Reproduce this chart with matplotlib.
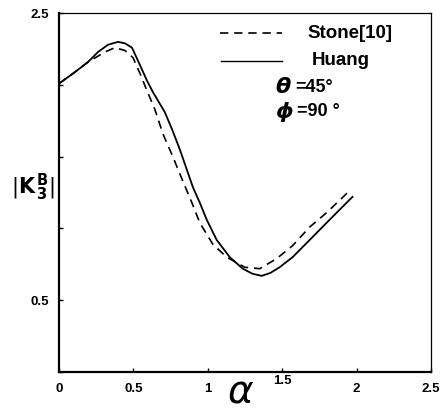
import matplotlib.pyplot as plt

# values
alpha_huang = [0.0, 0.107, 0.195, 0.262, 0.329, 0.396, 0.443, 0.490, 0.530,
               0.591, 0.631, 0.711, 0.760, 0.812, 0.859, 0.899, 0.946, 0.993,
               1.060, 1.148, 1.235, 1.30, 1.362, 1.42, 1.483, 1.570, 1.685,
               1.799, 1.953, 1.973]
k_huang = [2.01, 2.09, 2.16, 2.23, 2.28, 2.30, 2.29, 2.26, 2.17,
           2.03, 1.95, 1.81, 1.69, 1.55, 1.41, 1.29, 1.18, 1.06,
           0.92, 0.80, 0.72, 0.685, 0.67, 0.69, 0.73, 0.80, 0.92,
           1.04, 1.20, 1.22]

alpha_stone = [0.0, 0.107, 0.195, 0.309, 0.376, 0.443, 0.497, 0.544, 0.591,
               0.644, 0.698, 0.765, 0.832, 0.893, 0.946, 1.034, 1.128, 1.248,
               1.349, 1.463, 1.570, 1.685, 1.799, 1.940]
k_stone = [2.01, 2.09, 2.16, 2.23, 2.26, 2.24, 2.19, 2.08, 1.96,
           1.83, 1.66, 1.50, 1.33, 1.18, 1.04, 0.89, 0.80, 0.73,
           0.72, 0.79, 0.88, 1.01, 1.11, 1.25]

x_ticks = [0, 0.5, 1, 1.5, 2, 2.5]
x_labels = ['0', '0.5', '1', '', '2', '2.5']
y_ticks = [0, 0.5, 1, 1.5, 2, 2.5]
y_labels = ['', '0.5', '', '', '', '2.5']

plt.rcParams['font.family'] = ['Liberation Sans', 'DejaVu Sans']
plt.rcParams['mathtext.fontset'] = 'dejavusans'

fig = plt.figure(figsize=(4.41, 4.12), dpi=100)
ax = fig.add_axes([0.134, 0.097, 0.843, 0.871])

ax.plot(alpha_stone, k_stone, color='black', lw=1.2, ls=(0, (5, 3.5)))
ax.plot(alpha_huang, k_huang, color='black', lw=1.3)

ax.set_xlim(0, 2.5)
ax.set_ylim(0, 2.5)
ax.set_xticks(x_ticks)
ax.set_xticklabels(x_labels, fontsize=9.5, fontweight='bold')
ax.set_yticks(y_ticks)
ax.set_yticklabels(y_labels, fontsize=9.5, fontweight='bold')
ax.tick_params(direction='in', length=3, width=1, pad=8)
ax.tick_params(axis='y', pad=7)

for s in ['left', 'bottom']:
    ax.spines[s].set_linewidth(1.6)
for s in ['top', 'right']:
    ax.spines[s].set_linewidth(0.9)

# raised 1.5 label next to alpha
ax.text(1.5, -0.008, '1.5', transform=ax.get_xaxis_transform(), ha='center',
        va='top', fontsize=9.5, fontweight='bold')
ax.text(0.489, -0.058, r'$\alpha$', transform=ax.transAxes, ha='center',
        va='center', fontsize=28)

# y label
fig.text(0.025, 0.545, r'$|\mathbf{K}^{\,\mathbf{B}}_{\,\mathbf{3}}|$',
         fontsize=15, ha='left', va='center')

# legend drawn by hand
ax.plot([1.08, 1.50], [2.36, 2.36], color='black', lw=1.2, ls=(0, (5, 3.5)))
ax.plot([1.09, 1.50], [2.17, 2.17], color='black', lw=1.0)
ax.text(1.67, 2.36, 'Stone[10]', fontsize=13.5, fontweight='bold', va='center')
ax.text(1.70, 2.17, 'Huang', fontsize=13.5, fontweight='bold', va='center')
ax.text(1.455, 1.985, r'$\boldsymbol{\theta}$', fontsize=16, va='center')
ax.text(1.59, 1.985, '=45°', fontsize=13, fontweight='bold', va='center')
ax.text(1.455, 1.815, r'$\boldsymbol{\phi}$', fontsize=16, va='center')
ax.text(1.60, 1.815, '=90 °', fontsize=13, fontweight='bold', va='center')

fig.savefig('out.png', dpi=100)
